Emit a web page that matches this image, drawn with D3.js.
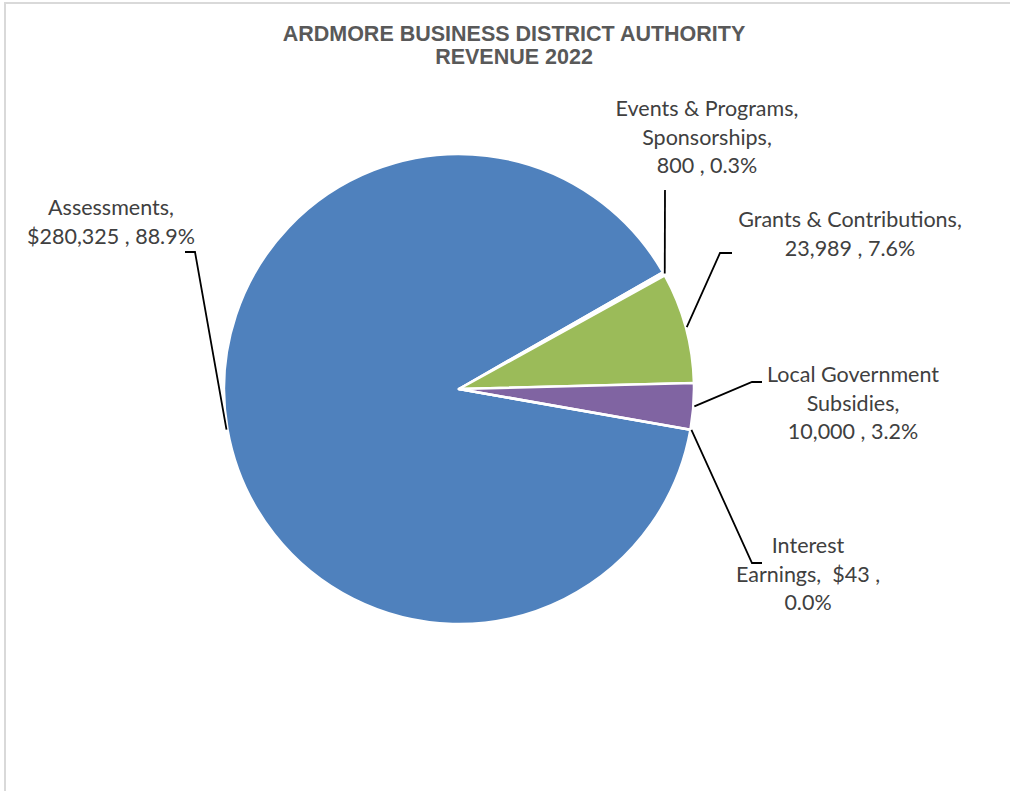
<html>
  <head>
    <title>ardmore_revenue</title>
    <style>
      body { margin: 0; background: #fff; }
      .title text {
        font: bold 21.5px "Liberation Sans", Arial, sans-serif;
        fill: #595959;
        text-anchor: middle;
      }
      .lbl text {
        font: 21.5px Lato, "Open Sans", sans-serif;
        fill: #404040;
        text-anchor: middle;
        white-space: pre;
      }
      .leader {
        fill: none;
        stroke: #000;
        stroke-width: 1.8;
      }
    </style>
    <script src="https://d3js.org/d3.v7.min.js"></script>
  </head>
  <body>
    <svg class="chart"></svg>
    <script>

var categories = ["Assessments", "Events & Programs, Sponsorships", "Grants & Contributions", "Local Government Subsidies", "Interest Earnings"];
var values = [280325, 800, 23989, 10000, 43];
var colors = ["#4F81BD", "#FFFFFF", "#9BBB59", "#8064A2", "#4BACC6"];
// label text lines (category part) and the value text as shown
var nameLines = [["Assessments,"], ["Events & Programs,", "Sponsorships,"], ["Grants & Contributions,"], ["Local Government", "Subsidies,"], ["Interest"]];
var valueText = ["$280,325", "800", "23,989", "10,000", "$43"];

var width = 1010,
    height = 791;

var cx = 459, cy = 389, radius = 235;

var chart = d3.select(".chart")
    .attr("width", width)
    .attr("height", height);

// chart area frame (clipped on right / bottom)
chart.append("path")
    .attr("d", "M5,791V3H1010")
    .attr("fill", "none")
    .attr("stroke", "#d9d9d9")
    .attr("stroke-width", 2);

var title = chart.append("g").attr("class", "title");
title.append("text").attr("x", 514).attr("y", 41).text("ARDMORE BUSINESS DISTRICT AUTHORITY");
title.append("text").attr("x", 514).attr("y", 64).text("REVENUE 2022");

var total = d3.sum(values);
var pct = d3.format(".1%");

var pie = d3.pie()
    .sort(null)
    .startAngle(100 * Math.PI / 180)
    .endAngle(460 * Math.PI / 180);

var arcs = pie(values);

var arc = d3.arc().innerRadius(0).outerRadius(radius);

var g = chart.append("g").attr("transform", "translate(" + cx + "," + cy + ")");

g.selectAll("path.slice")
    .data(arcs)
  .enter().append("path")
    .attr("class", "slice")
    .attr("d", arc)
    .attr("fill", function(d, i) { return colors[i]; })
    .attr("stroke", "#fff")
    .attr("stroke-width", 2.5)
    .attr("stroke-linejoin", "round");

// label placement (centre x, first baseline) and leader elbow points, page coords
var layout = [
  {x: 111, y: 215, a: [185, 252], b: [195, 252]},
  {x: 707, y: 116, a: [665, 190], b: [665, 190]},
  {x: 850, y: 227, a: [732, 253], b: [720, 253]},
  {x: 853, y: 382, a: [762, 382], b: [752, 382]},
  {x: 808, y: 553, a: [762, 563], b: [752, 563]}
];
var lineH = 28.5;

var edge = d3.arc().innerRadius(radius + 1).outerRadius(radius + 1);

arcs.forEach(function(d, i) {
  var L = layout[i];
  var c = edge.centroid(d);
  var end = [cx + c[0], cy + c[1]];
  chart.append("path")
      .attr("class", "leader")
      .attr("d", d3.line()([L.a, L.b, end]));

  var lines = nameLines[i].slice();
  var v = valueText[i] + " , " + pct(values[i] / total);
  if (i === 4) {
    lines.push("Earnings,  " + valueText[i] + " ,");
    lines.push(pct(values[i] / total));
  } else {
    lines.push(v);
  }
  var t = chart.append("g").attr("class", "lbl");
  lines.forEach(function(s, k) {
    t.append("text")
        .attr("x", L.x)
        .attr("y", L.y + k * lineH)
        .text(s);
  });
});

    </script>
  </body>
</html>
